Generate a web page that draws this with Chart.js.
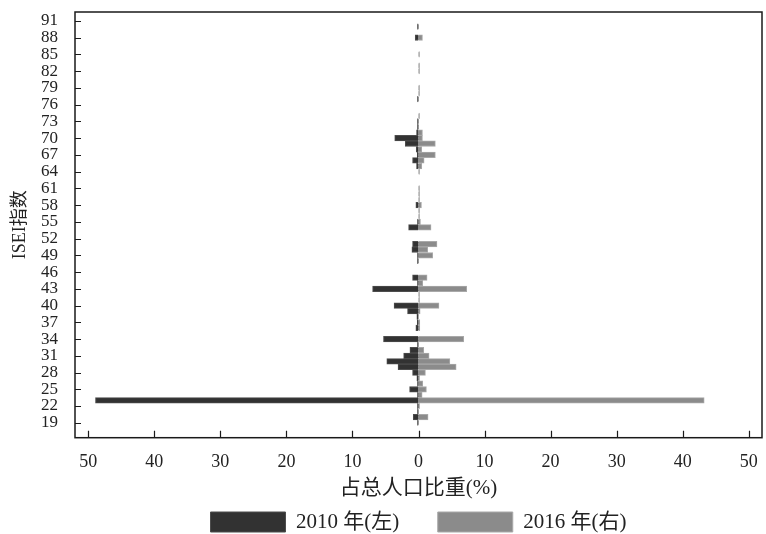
<!DOCTYPE html>
<html>
<head>
<meta charset="utf-8">
<script src="https://cdn.jsdelivr.net/npm/chart.js@4.4.0/dist/chart.umd.min.js"></script>
<style>
  html, body { margin: 0; padding: 0; background: #fff; }
</style>
</head>
<body>
<canvas id="graphique-isei" width="766" height="534"></canvas>
<script>
// codes ISEI qui portent une barre (du haut vers le bas)
const codesIsei = [90, 88, 85, 83, 82, 79, 78, 77, 74, 73, 72, 71, 70, 69, 68, 67, 66, 65, 64,
    61, 60, 59, 58, 57, 56, 55, 54, 51, 50, 49, 48, 45, 44, 43, 42, 41, 40, 39, 38, 37, 36,
    34, 33, 32, 31, 30, 29, 28, 27, 26, 25, 24, 23, 22, 21, 20, 19];
// part de la population (%) - 2010 à gauche, 2016 à droite
const part2010 = [0.15, 0.5, 0, 0, 0, 0, 0, 0.15, 0, 0.15, 0.15, 0.3, 3.6, 2.0, 0.35, 0.2, 0.9, 0.3, 0,
    0, 0, 0, 0.4, 0, 0, 0.15, 1.5, 0.9, 1.0, 0.15, 0.15, 0.9, 0.15, 6.95, 0, 0, 3.7, 1.66, 0.25, 0.2, 0.4,
    5.3, 0.15, 1.3, 2.25, 4.8, 3.1, 0.9, 0.25, 0.15, 1.35, 0.15, 48.9, 0.15, 0.15, 0.8, 0.15];
const part2016 = [0, 0.6, 0.15, 0.15, 0.15, 0.15, 0.15, 0, 0.15, 0, 0, 0.6, 0.6, 2.55, 0.5, 2.55, 0.85, 0.5, 0.15,
    0.15, 0.15, 0.15, 0.45, 0.15, 0.15, 0.3, 1.9, 2.8, 1.4, 2.15, 0, 1.3, 0.65, 7.3, 0.15, 0.15, 3.1, 0.25, 0, 0.2, 0.2,
    6.85, 0, 0.8, 1.6, 4.75, 5.7, 1.05, 0.15, 0.65, 1.2, 0.55, 43.25, 0.15, 0, 1.45, 0];
const ticksIsei = [19, 22, 25, 28, 31, 34, 37, 40, 43, 46, 49, 52, 55, 58, 61, 64, 67, 70, 73, 76, 79, 82, 85, 88, 91];
const ticksPart = [-50, -40, -30, -20, -10, 0, 10, 20, 30, 40, 50];

const policeTexte = '"Liberation Serif", "Noto Sans CJK SC", serif';
Chart.defaults.font.family = policeTexte;
Chart.defaults.color = "#222";

// cadre + petites graduations tournées vers l'intérieur
const cadreGraduations = {
    id: "cadreGraduations",
    afterDraw(chart) {
        const { ctx, chartArea: a, scales } = chart;
        ctx.save();
        ctx.strokeStyle = "#1a1a1a";
        ctx.lineWidth = 1.5;
        ctx.strokeRect(a.left, a.top, a.right - a.left, a.bottom - a.top);
        ctx.lineWidth = 1.2;
        ctx.beginPath();
        scales.x.ticks.forEach(t => {
            const px = Math.round(scales.x.getPixelForValue(t.value)) + 0.5;
            ctx.moveTo(px, a.bottom);
            ctx.lineTo(px, a.bottom - 7);
        });
        scales.y.ticks.forEach(t => {
            const py = Math.round(scales.y.getPixelForValue(t.value)) + 0.5;
            ctx.moveTo(a.left, py);
            ctx.lineTo(a.left + 6, py);
        });
        ctx.stroke();
        ctx.restore();
    }
};

const config = {
    type: "bar",
    data: {
        datasets: [{
            label: "2010 年(左)",
            data: codesIsei.map((c, i) => ({ x: -part2010[i], y: c })),
            backgroundColor: "#323232",
            borderColor: "#4d4d4d",
            borderWidth: 1,
            categoryPercentage: 1,
            barPercentage: 1,
        }, {
            label: "2016 年(右)",
            data: codesIsei.map((c, i) => ({ x: part2016[i], y: c })),
            backgroundColor: "#8b8b8b",
            borderColor: "#a9a9a9",
            borderWidth: 1,
            categoryPercentage: 1,
            barPercentage: 1,
        }]
    },
    options: {
        responsive: false,
        animation: false,
        indexAxis: "y",
        layout: { padding: { top: 12, right: 4, left: 0, bottom: -8.5 } },
        scales: {
            x: {
                type: "linear",
                stacked: true,
                min: -52,
                max: 52,
                afterBuildTicks: s => { s.ticks = ticksPart.map(v => ({ value: v })); },
                afterFit: s => { s.height = 35.3; s.paddingLeft = 0; s.paddingRight = 0; },
                grid: { display: false, drawTicks: false },
                border: { display: false },
                ticks: {
                    padding: 14,
                    font: { size: 18 },
                    color: "#222",
                    callback: v => String(Math.abs(v))
                },
                title: {
                    display: true,
                    text: "占总人口比重(%)",
                    font: { size: 21 },
                    color: "#222",
                    padding: { top: 0, bottom: -27.6 }
                }
            },
            y: {
                type: "linear",
                stacked: true,
                offset: false,
                min: 16.32,
                max: 92.6,
                afterBuildTicks: s => { s.ticks = ticksIsei.map(v => ({ value: v })); },
                afterFit: s => { s.width = 75; s.paddingTop = 0; s.paddingBottom = 0; },
                grid: { display: false, drawTicks: false },
                border: { display: false },
                ticks: {
                    autoSkip: false,
                    padding: 17,
                    font: { size: 17, lineHeight: 1 },
                    color: "#222"
                },
                title: {
                    display: true,
                    text: "ISEI指数",
                    font: { size: 18 },
                    color: "#222",
                    padding: { top: 9, bottom: 0 }
                }
            }
        },
        plugins: {
            legend: {
                position: "bottom",
                fullSize: false,
                labels: {
                    boxWidth: 75,
                    boxHeight: 20,
                    padding: 38.5,
                    font: { size: 21 },
                    color: "#222"
                }
            },
            tooltip: { enabled: false }
        }
    },
    plugins: [cadreGraduations]
};

const graphiqueIsei = new Chart(document.querySelector("#graphique-isei"), config);
</script>
</body>
</html>
